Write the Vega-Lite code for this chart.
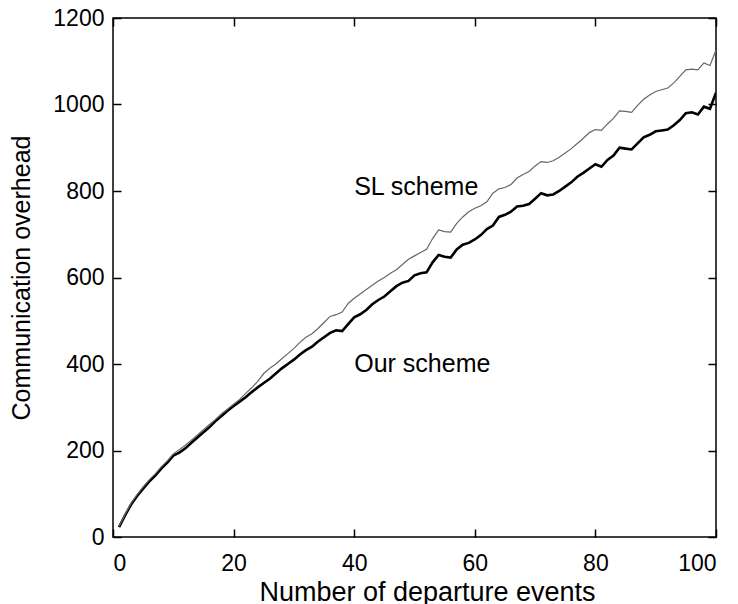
{
  "$schema": "https://vega.github.io/schema/vega-lite/v6.json",
  "width": 603,
  "height": 519,
  "autosize": {"type": "none"},
  "padding": {"left": 113, "top": 18, "right": 22, "bottom": 67},
  "background": "white",
  "config": {
    "font": "Liberation Sans",
    "view": {"stroke": "black", "strokeWidth": 1.5},
    "axis": {"grid": false, "domain": false, "tickColor": "black", "labelColor": "black", "titleColor": "black", "labelFontSize": 23, "titleFontSize": 25, "titleFontWeight": "normal", "tickWidth": 1.5, "format": "d"}
  },
  "datasets": {
    "series": [
      {"x":1,"v":23,"s":"Our"},{"x":2,"v":50,"s":"Our"},{"x":3,"v":75,"s":"Our"},{"x":4,"v":95,"s":"Our"},{"x":5,"v":112,"s":"Our"},{"x":6,"v":128,"s":"Our"},{"x":7,"v":142,"s":"Our"},{"x":8,"v":158,"s":"Our"},{"x":9,"v":172,"s":"Our"},{"x":10,"v":188,"s":"Our"},
      {"x":11,"v":195,"s":"Our"},{"x":12,"v":205,"s":"Our"},{"x":13,"v":218,"s":"Our"},{"x":14,"v":230,"s":"Our"},{"x":15,"v":242,"s":"Our"},{"x":16,"v":254,"s":"Our"},{"x":17,"v":268,"s":"Our"},{"x":18,"v":280,"s":"Our"},{"x":19,"v":292,"s":"Our"},{"x":20,"v":303,"s":"Our"},
      {"x":21,"v":313,"s":"Our"},{"x":22,"v":323,"s":"Our"},{"x":23,"v":335,"s":"Our"},{"x":24,"v":346,"s":"Our"},{"x":25,"v":356,"s":"Our"},{"x":26,"v":366,"s":"Our"},{"x":27,"v":378,"s":"Our"},{"x":28,"v":390,"s":"Our"},{"x":29,"v":400,"s":"Our"},{"x":30,"v":410,"s":"Our"},
      {"x":31,"v":422,"s":"Our"},{"x":32,"v":432,"s":"Our"},{"x":33,"v":440,"s":"Our"},{"x":34,"v":452,"s":"Our"},{"x":35,"v":462,"s":"Our"},{"x":36,"v":472,"s":"Our"},{"x":37,"v":478,"s":"Our"},{"x":38,"v":476,"s":"Our"},{"x":39,"v":492,"s":"Our"},{"x":40,"v":508,"s":"Our"},
      {"x":41,"v":515,"s":"Our"},{"x":42,"v":525,"s":"Our"},{"x":43,"v":538,"s":"Our"},{"x":44,"v":548,"s":"Our"},{"x":45,"v":556,"s":"Our"},{"x":46,"v":568,"s":"Our"},{"x":47,"v":580,"s":"Our"},{"x":48,"v":588,"s":"Our"},{"x":49,"v":592,"s":"Our"},{"x":50,"v":605,"s":"Our"},
      {"x":51,"v":610,"s":"Our"},{"x":52,"v":612,"s":"Our"},{"x":53,"v":635,"s":"Our"},{"x":54,"v":652,"s":"Our"},{"x":55,"v":648,"s":"Our"},{"x":56,"v":646,"s":"Our"},{"x":57,"v":665,"s":"Our"},{"x":58,"v":676,"s":"Our"},{"x":59,"v":680,"s":"Our"},{"x":60,"v":688,"s":"Our"},
      {"x":61,"v":698,"s":"Our"},{"x":62,"v":712,"s":"Our"},{"x":63,"v":720,"s":"Our"},{"x":64,"v":740,"s":"Our"},{"x":65,"v":745,"s":"Our"},{"x":66,"v":752,"s":"Our"},{"x":67,"v":764,"s":"Our"},{"x":68,"v":766,"s":"Our"},{"x":69,"v":770,"s":"Our"},{"x":70,"v":782,"s":"Our"},
      {"x":71,"v":795,"s":"Our"},{"x":72,"v":790,"s":"Our"},{"x":73,"v":792,"s":"Our"},{"x":74,"v":800,"s":"Our"},{"x":75,"v":810,"s":"Our"},{"x":76,"v":820,"s":"Our"},{"x":77,"v":833,"s":"Our"},{"x":78,"v":842,"s":"Our"},{"x":79,"v":852,"s":"Our"},{"x":80,"v":862,"s":"Our"},
      {"x":81,"v":856,"s":"Our"},{"x":82,"v":872,"s":"Our"},{"x":83,"v":882,"s":"Our"},{"x":84,"v":900,"s":"Our"},{"x":85,"v":898,"s":"Our"},{"x":86,"v":896,"s":"Our"},{"x":87,"v":910,"s":"Our"},{"x":88,"v":924,"s":"Our"},{"x":89,"v":930,"s":"Our"},{"x":90,"v":938,"s":"Our"},
      {"x":91,"v":940,"s":"Our"},{"x":92,"v":942,"s":"Our"},{"x":93,"v":952,"s":"Our"},{"x":94,"v":964,"s":"Our"},{"x":95,"v":980,"s":"Our"},{"x":96,"v":982,"s":"Our"},{"x":97,"v":977,"s":"Our"},{"x":98,"v":995,"s":"Our"},{"x":99,"v":990,"s":"Our"},{"x":100,"v":1027,"s":"Our"},
      {"x":1,"v":25,"s":"SL"},{"x":2,"v":52,"s":"SL"},{"x":3,"v":78,"s":"SL"},{"x":4,"v":98,"s":"SL"},{"x":5,"v":116,"s":"SL"},{"x":6,"v":132,"s":"SL"},{"x":7,"v":146,"s":"SL"},{"x":8,"v":162,"s":"SL"},{"x":9,"v":176,"s":"SL"},{"x":10,"v":192,"s":"SL"},
      {"x":11,"v":202,"s":"SL"},{"x":12,"v":212,"s":"SL"},{"x":13,"v":224,"s":"SL"},{"x":14,"v":236,"s":"SL"},{"x":15,"v":248,"s":"SL"},{"x":16,"v":260,"s":"SL"},{"x":17,"v":272,"s":"SL"},{"x":18,"v":285,"s":"SL"},{"x":19,"v":296,"s":"SL"},{"x":20,"v":307,"s":"SL"},
      {"x":21,"v":318,"s":"SL"},{"x":22,"v":332,"s":"SL"},{"x":23,"v":345,"s":"SL"},{"x":24,"v":360,"s":"SL"},{"x":25,"v":378,"s":"SL"},{"x":26,"v":390,"s":"SL"},{"x":27,"v":400,"s":"SL"},{"x":28,"v":412,"s":"SL"},{"x":29,"v":424,"s":"SL"},{"x":30,"v":436,"s":"SL"},
      {"x":31,"v":450,"s":"SL"},{"x":32,"v":462,"s":"SL"},{"x":33,"v":470,"s":"SL"},{"x":34,"v":482,"s":"SL"},{"x":35,"v":496,"s":"SL"},{"x":36,"v":510,"s":"SL"},{"x":37,"v":514,"s":"SL"},{"x":38,"v":520,"s":"SL"},{"x":39,"v":540,"s":"SL"},{"x":40,"v":552,"s":"SL"},
      {"x":41,"v":562,"s":"SL"},{"x":42,"v":572,"s":"SL"},{"x":43,"v":582,"s":"SL"},{"x":44,"v":592,"s":"SL"},{"x":45,"v":600,"s":"SL"},{"x":46,"v":610,"s":"SL"},{"x":47,"v":618,"s":"SL"},{"x":48,"v":630,"s":"SL"},{"x":49,"v":642,"s":"SL"},{"x":50,"v":650,"s":"SL"},
      {"x":51,"v":658,"s":"SL"},{"x":52,"v":665,"s":"SL"},{"x":53,"v":690,"s":"SL"},{"x":54,"v":710,"s":"SL"},{"x":55,"v":706,"s":"SL"},{"x":56,"v":705,"s":"SL"},{"x":57,"v":725,"s":"SL"},{"x":58,"v":740,"s":"SL"},{"x":59,"v":752,"s":"SL"},{"x":60,"v":760,"s":"SL"},
      {"x":61,"v":766,"s":"SL"},{"x":62,"v":775,"s":"SL"},{"x":63,"v":795,"s":"SL"},{"x":64,"v":805,"s":"SL"},{"x":65,"v":808,"s":"SL"},{"x":66,"v":815,"s":"SL"},{"x":67,"v":830,"s":"SL"},{"x":68,"v":838,"s":"SL"},{"x":69,"v":845,"s":"SL"},{"x":70,"v":858,"s":"SL"},
      {"x":71,"v":868,"s":"SL"},{"x":72,"v":866,"s":"SL"},{"x":73,"v":870,"s":"SL"},{"x":74,"v":878,"s":"SL"},{"x":75,"v":888,"s":"SL"},{"x":76,"v":898,"s":"SL"},{"x":77,"v":910,"s":"SL"},{"x":78,"v":922,"s":"SL"},{"x":79,"v":935,"s":"SL"},{"x":80,"v":942,"s":"SL"},
      {"x":81,"v":940,"s":"SL"},{"x":82,"v":955,"s":"SL"},{"x":83,"v":968,"s":"SL"},{"x":84,"v":985,"s":"SL"},{"x":85,"v":984,"s":"SL"},{"x":86,"v":982,"s":"SL"},{"x":87,"v":998,"s":"SL"},{"x":88,"v":1012,"s":"SL"},{"x":89,"v":1022,"s":"SL"},{"x":90,"v":1030,"s":"SL"},
      {"x":91,"v":1034,"s":"SL"},{"x":92,"v":1038,"s":"SL"},{"x":93,"v":1050,"s":"SL"},{"x":94,"v":1065,"s":"SL"},{"x":95,"v":1080,"s":"SL"},{"x":96,"v":1082,"s":"SL"},{"x":97,"v":1080,"s":"SL"},{"x":98,"v":1096,"s":"SL"},{"x":99,"v":1090,"s":"SL"},{"x":100,"v":1126,"s":"SL"}
    ],
    "labels": [
      {"x": 40, "v": 790, "t": "SL scheme"},
      {"x": 40, "v": 382, "t": "Our scheme"}
    ]
  },
  "layer": [
    {
      "data": {"name": "series"},
      "mark": {"type": "line", "clip": true},
      "encoding": {
        "x": {"field": "x", "type": "quantitative", "scale": {"domain": [0, 100], "nice": false},
              "axis": {"values": [0, 20, 40, 60, 80, 100], "tickSize": -8, "labelPadding": 23, "title": "Number of departure events", "titleBaseline": "alphabetic", "titleY": 63, "titleX": 314, "titleFontSize": 27}},
        "y": {"field": "v", "type": "quantitative", "scale": {"domain": [0, 1200], "nice": false},
              "axis": {"values": [0, 200, 400, 600, 800, 1000, 1200], "tickSize": -8, "labelPadding": 17, "title": "Communication overhead", "titleBaseline": "alphabetic", "titleX": -84}},
        "color": {"field": "s", "type": "nominal", "scale": {"domain": ["Our", "SL"], "range": ["#000000", "#666666"]}, "legend": null},
        "strokeWidth": {"field": "s", "type": "nominal", "scale": {"domain": ["Our", "SL"], "range": [2.6, 1.2]}, "legend": null}
      }
    },
    {
      "data": {"name": "series"},
      "mark": {"type": "rule", "opacity": 0},
      "encoding": {
        "x": {"field": "x", "type": "quantitative", "axis": {"orient": "top", "values": [0, 20, 40, 60, 80, 100], "tickSize": -8, "labels": false, "title": null}},
        "y": {"field": "v", "type": "quantitative", "axis": {"orient": "right", "values": [0, 200, 400, 600, 800, 1000, 1200], "tickSize": -8, "labels": false, "title": null}}
      }
    },
    {
      "data": {"name": "labels"},
      "mark": {"type": "text", "align": "left", "baseline": "alphabetic", "fontSize": 25, "color": "black"},
      "encoding": {
        "x": {"field": "x", "type": "quantitative", "axis": null},
        "y": {"field": "v", "type": "quantitative", "axis": null},
        "text": {"field": "t"}
      }
    }
  ],
  "resolve": {"axis": {"x": "independent", "y": "independent"}}
}
